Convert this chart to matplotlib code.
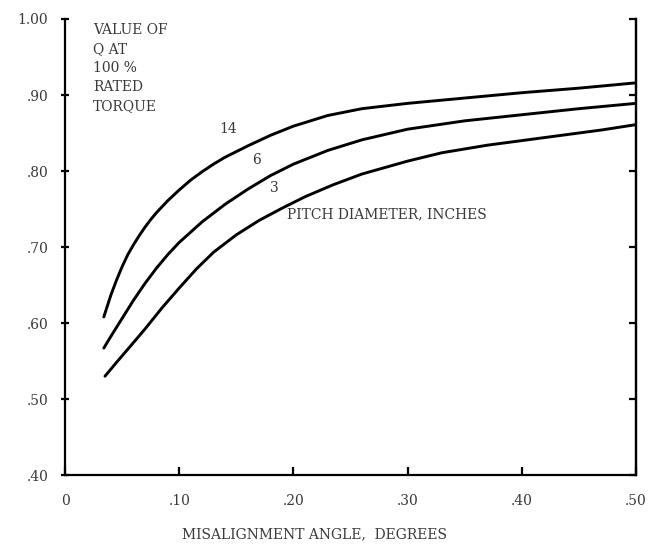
import matplotlib
matplotlib.use("Agg")
import matplotlib.pyplot as plt

# ---- data ----
x_14 = [0.034, 0.037, 0.040, 0.045, 0.050, 0.055, 0.060, 0.065, 0.070, 0.075, 0.080,
        0.090, 0.100, 0.110, 0.120, 0.130, 0.140, 0.160, 0.180, 0.200, 0.230, 0.260,
        0.300, 0.350, 0.400, 0.450, 0.500]
y_14 = [0.608, 0.622, 0.636, 0.656, 0.674, 0.690, 0.703, 0.715, 0.726, 0.736, 0.745,
        0.761, 0.775, 0.788, 0.799, 0.809, 0.818, 0.833, 0.847, 0.859, 0.873, 0.882,
        0.889, 0.896, 0.903, 0.909, 0.916]

x_6 = [0.034, 0.040, 0.050, 0.060, 0.070, 0.080, 0.090, 0.100, 0.120, 0.140, 0.160,
       0.180, 0.200, 0.230, 0.260, 0.300, 0.350, 0.400, 0.450, 0.500]
y_6 = [0.567, 0.582, 0.606, 0.630, 0.652, 0.672, 0.690, 0.706, 0.733, 0.756, 0.776,
       0.794, 0.809, 0.827, 0.841, 0.855, 0.866, 0.874, 0.882, 0.889]

x_3 = [0.035, 0.045, 0.057, 0.070, 0.085, 0.100, 0.115, 0.130, 0.150, 0.170, 0.190,
       0.210, 0.235, 0.260, 0.300, 0.330, 0.370, 0.400, 0.440, 0.470, 0.500]
y_3 = [0.530, 0.548, 0.569, 0.592, 0.620, 0.646, 0.671, 0.693, 0.716, 0.735, 0.751,
       0.766, 0.782, 0.796, 0.813, 0.824, 0.834, 0.840, 0.848, 0.854, 0.861]

series_labels = ["14", "6", "3"]
label_pos = [(0.1427, 0.855), (0.168, 0.8145), (0.183, 0.778)]

x_ticks = [0.0, 0.1, 0.2, 0.3, 0.4, 0.5]
x_tick_labels = ["0", ".10", ".20", ".30", ".40", ".50"]
y_ticks = [0.4, 0.5, 0.6, 0.7, 0.8, 0.9, 1.0]
y_tick_labels = [".40", ".50", ".60", ".70", ".80", ".90", "1.00"]

ylabel_text = "VALUE OF\nQ AT\n100 %\nRATED\nTORQUE"
note_text = "PITCH DIAMETER, INCHES"
xlabel_text = "MISALIGNMENT ANGLE,  DEGREES"

# ---- figure ----
FONT = "DejaVu Serif"
TXT = "#3a3a3a"
plt.rcParams["font.family"] = [FONT, "DejaVu Sans"]

fig = plt.figure(figsize=(6.62, 5.44), dpi=100)
ax = fig.add_axes([65 / 662, 1 - 475 / 544, (636 - 65) / 662, (475 - 19) / 544])
ax.set_xlim(0, 0.5)
ax.set_ylim(0.4, 1.0)

for xs, ys in [(x_14, y_14), (x_6, y_6), (x_3, y_3)]:
    ax.plot(xs, ys, color="black", lw=2.1, solid_capstyle="round",
            solid_joinstyle="round")

for lab, (lx, ly) in zip(series_labels, label_pos):
    ax.text(lx, ly, lab, fontsize=10, color=TXT, ha="center", va="center")

ax.text(0.1944, 0.743, note_text, fontsize=10, color=TXT, ha="left", va="center")
ax.text(0.0245, 0.9355, ylabel_text, fontsize=10, color=TXT, ha="left", va="center",
        linespacing=1.45)

# spines
ax.spines["top"].set_visible(False)
for s in ["left", "right", "bottom"]:
    ax.spines[s].set_linewidth(1.6)
    ax.spines[s].set_color("black")

# left ticks with labels (crossing the spine)
ax.set_yticks(y_ticks)
ax.set_yticklabels(y_tick_labels)
ax.tick_params(axis="y", which="major", left=True, right=False, direction="inout",
               length=6, width=1.6, labelsize=10, labelcolor=TXT, pad=9)

# right ticks pointing inward only
ax_r = ax.twinx()
ax_r.set_ylim(ax.get_ylim())
ax_r.set_yticks(y_ticks)
ax_r.set_yticklabels([])
ax_r.tick_params(axis="y", direction="in", length=5, width=1.6)
for s in ["top", "left", "bottom"]:
    ax_r.spines[s].set_visible(False)
ax_r.spines["right"].set_linewidth(1.6)

ax.set_xticks(x_ticks)
ax.set_xticklabels(x_tick_labels)
ax.tick_params(axis="x", direction="in", length=6, width=1.6, labelsize=10,
               labelcolor=TXT, pad=14)

fig.text(315 / 662, 1 - 534 / 544, xlabel_text, fontsize=10, color=TXT,
         ha="center", va="center")

fig.savefig("out.png", dpi=100)
